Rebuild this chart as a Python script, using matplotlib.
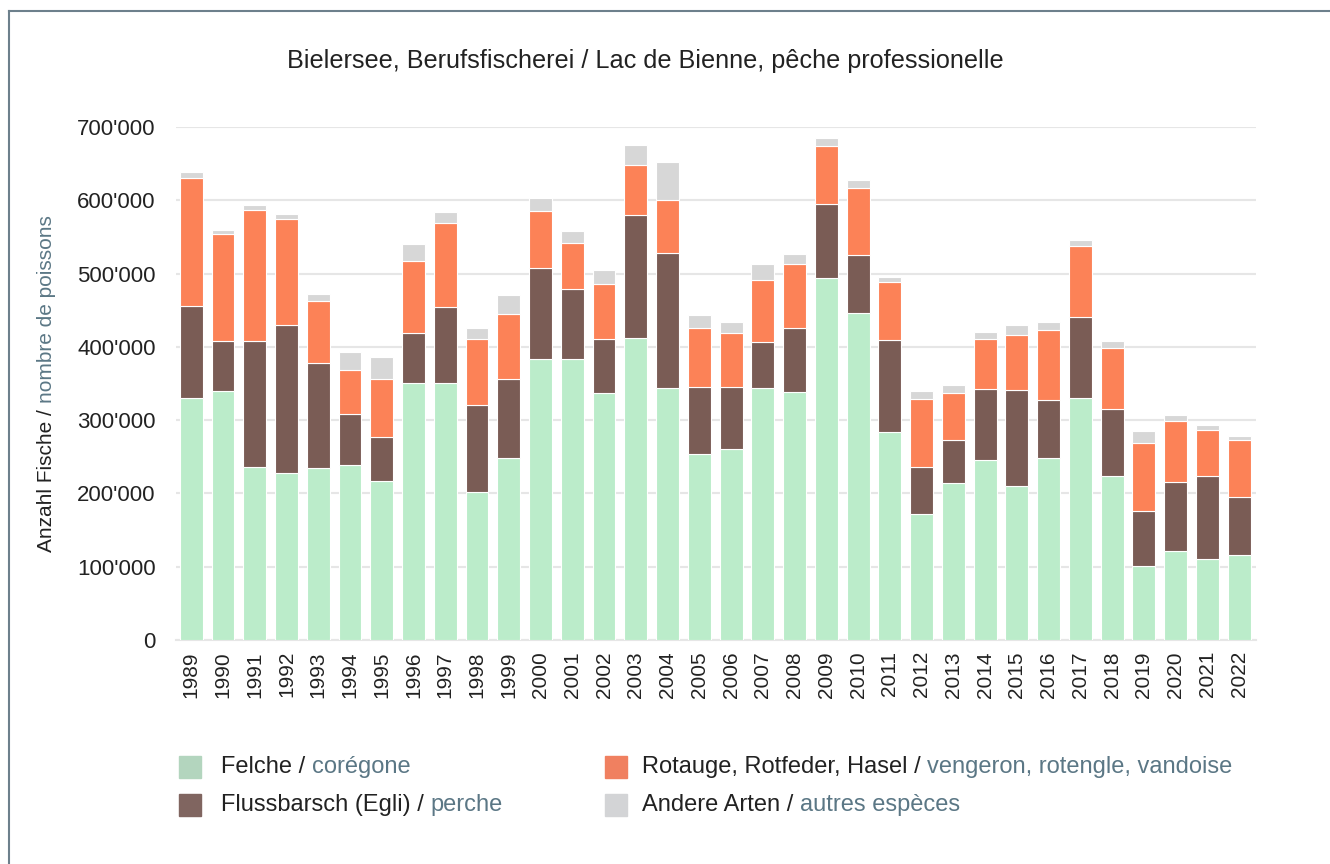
import numpy as np
import matplotlib
matplotlib.use('Agg')
import matplotlib.pyplot as plt
from matplotlib.patches import Rectangle
from matplotlib.ticker import FuncFormatter

plt.rcParams['font.family'] = ['Liberation Sans', 'DejaVu Sans']

years = list(range(1989, 2023))

# cumulative readings converted to per-species counts
felche = [330, 340, 236, 228, 235, 239, 217, 351, 351, 202, 248, 383, 383, 337,
          412, 344, 254, 261, 344, 338, 494, 446, 284, 172, 214, 246, 210, 248,
          330, 224, 101, 121, 111, 116]
barsch = [126, 68, 172, 202, 143, 69, 60, 68, 103, 119, 108, 125, 96, 74,
          168, 184, 91, 84, 63, 88, 101, 79, 125, 64, 59, 96, 131, 79,
          111, 91, 75, 95, 113, 79]
rotauge = [174, 146, 179, 144, 84, 60, 79, 98, 115, 90, 89, 77, 63, 75,
           68, 72, 81, 74, 84, 87, 79, 92, 79, 93, 64, 69, 75, 96,
           97, 83, 93, 83, 63, 78]
andere = [8, 5, 7, 7, 10, 25, 30, 23, 15, 15, 26, 18, 16, 19,
          27, 52, 17, 15, 22, 14, 11, 11, 8, 11, 11, 9, 14, 11,
          8, 10, 16, 8, 6, 5]

series = [np.array(felche) * 1000, np.array(barsch) * 1000,
          np.array(rotauge) * 1000, np.array(andere) * 1000]
bar_colors = ['#bbecca', '#7a5c55', '#fc8257', '#d7d7d7']
leg_colors = ['#b3d5be', '#806560', '#f08060', '#d3d4d6']
leg_de = ['Felche / ', 'Flussbarsch (Egli) / ', 'Rotauge, Rotfeder, Hasel / ', 'Andere Arten / ']
leg_fr = ['corégone', 'perche', 'vengeron, rotengle, vandoise', 'autres espèces']

dark = '#222222'
blue = '#5b7785'

fig = plt.figure(figsize=(13.3, 8.64), dpi=100)
W, H = 1330, 864
ax = fig.add_axes([176 / W, 1 - 640 / H, (1256 - 176) / W, (640 - 127) / H])

x = np.arange(len(years))
bottom = np.zeros(len(years))
for vals, c in zip(series, bar_colors):
    ax.bar(x, vals, 0.72, bottom=bottom, color=c, edgecolor='white', linewidth=0.8, zorder=3)
    bottom += vals

ax.set_xlim(-0.48, len(years) - 0.47)
ax.set_ylim(0, 700000)
ax.set_yticks(np.arange(0, 700001, 100000))
ax.yaxis.set_major_formatter(FuncFormatter(lambda v, p: '0' if v == 0 else "{:,.0f}".format(v).replace(',', "'")))
ax.set_xticks(x)
ax.set_xticklabels([str(y) for y in years], rotation=90, fontsize=15, color=dark)
ax.tick_params(axis='y', labelsize=16, labelcolor=dark, length=0, pad=14.5)
ax.tick_params(axis='x', length=0, pad=8)
ax.grid(axis='y', color='#e6e6e6', linewidth=1.5, zorder=0)
for s in ['top', 'right', 'left']:
    ax.spines[s].set_visible(False)
ax.spines['bottom'].set_color('#e6e6e6')
ax.spines['bottom'].set_linewidth(1.5)

fig.text(645 / W, 1 - 61 / H, 'Bielersee, Berufsfischerei / Lac de Bienne, pêche professionelle',
         ha='center', va='center', fontsize=18.2, color=dark)

# frame lines (left and top only visible)
fig.add_artist(plt.Line2D([9 / W, 9 / W], [0, 1 - 11 / H], color='#6d808c', linewidth=1.5))
fig.add_artist(plt.Line2D([9 / W, 1], [1 - 11 / H, 1 - 11 / H], color='#6d808c', linewidth=1.5))

fig.canvas.draw()
renderer = fig.canvas.get_renderer()

# y label in two colours, rotated
t1 = fig.text(47 / W, 1 - 552 / H, 'Anzahl Fische / ', rotation=90, ha='center', va='bottom',
              fontsize=15, color=dark)
bb = t1.get_window_extent(renderer)
fig.text(47 / W, bb.y1 / H, 'nombre de poissons', rotation=90, ha='center', va='bottom',
         fontsize=15, color=blue)

# legend
rows = [767, 805]
cols = [(179, 221), (605, 642)]
for i in range(4):
    sx, tx = cols[i // 2]
    ry = rows[i % 2]
    fig.add_artist(Rectangle((sx / W, 1 - (ry + 11) / H), 22 / W, 22 / H,
                             transform=fig.transFigure, color=leg_colors[i]))
    a = fig.text(tx / W, 1 - ry / H, leg_de[i], ha='left', va='center', fontsize=17, color=dark)
    b1 = a.get_window_extent(renderer)
    fig.text(b1.x1 / W, 1 - ry / H, leg_fr[i], ha='left', va='center', fontsize=17, color=blue)

fig.savefig('out.png', dpi=100)
